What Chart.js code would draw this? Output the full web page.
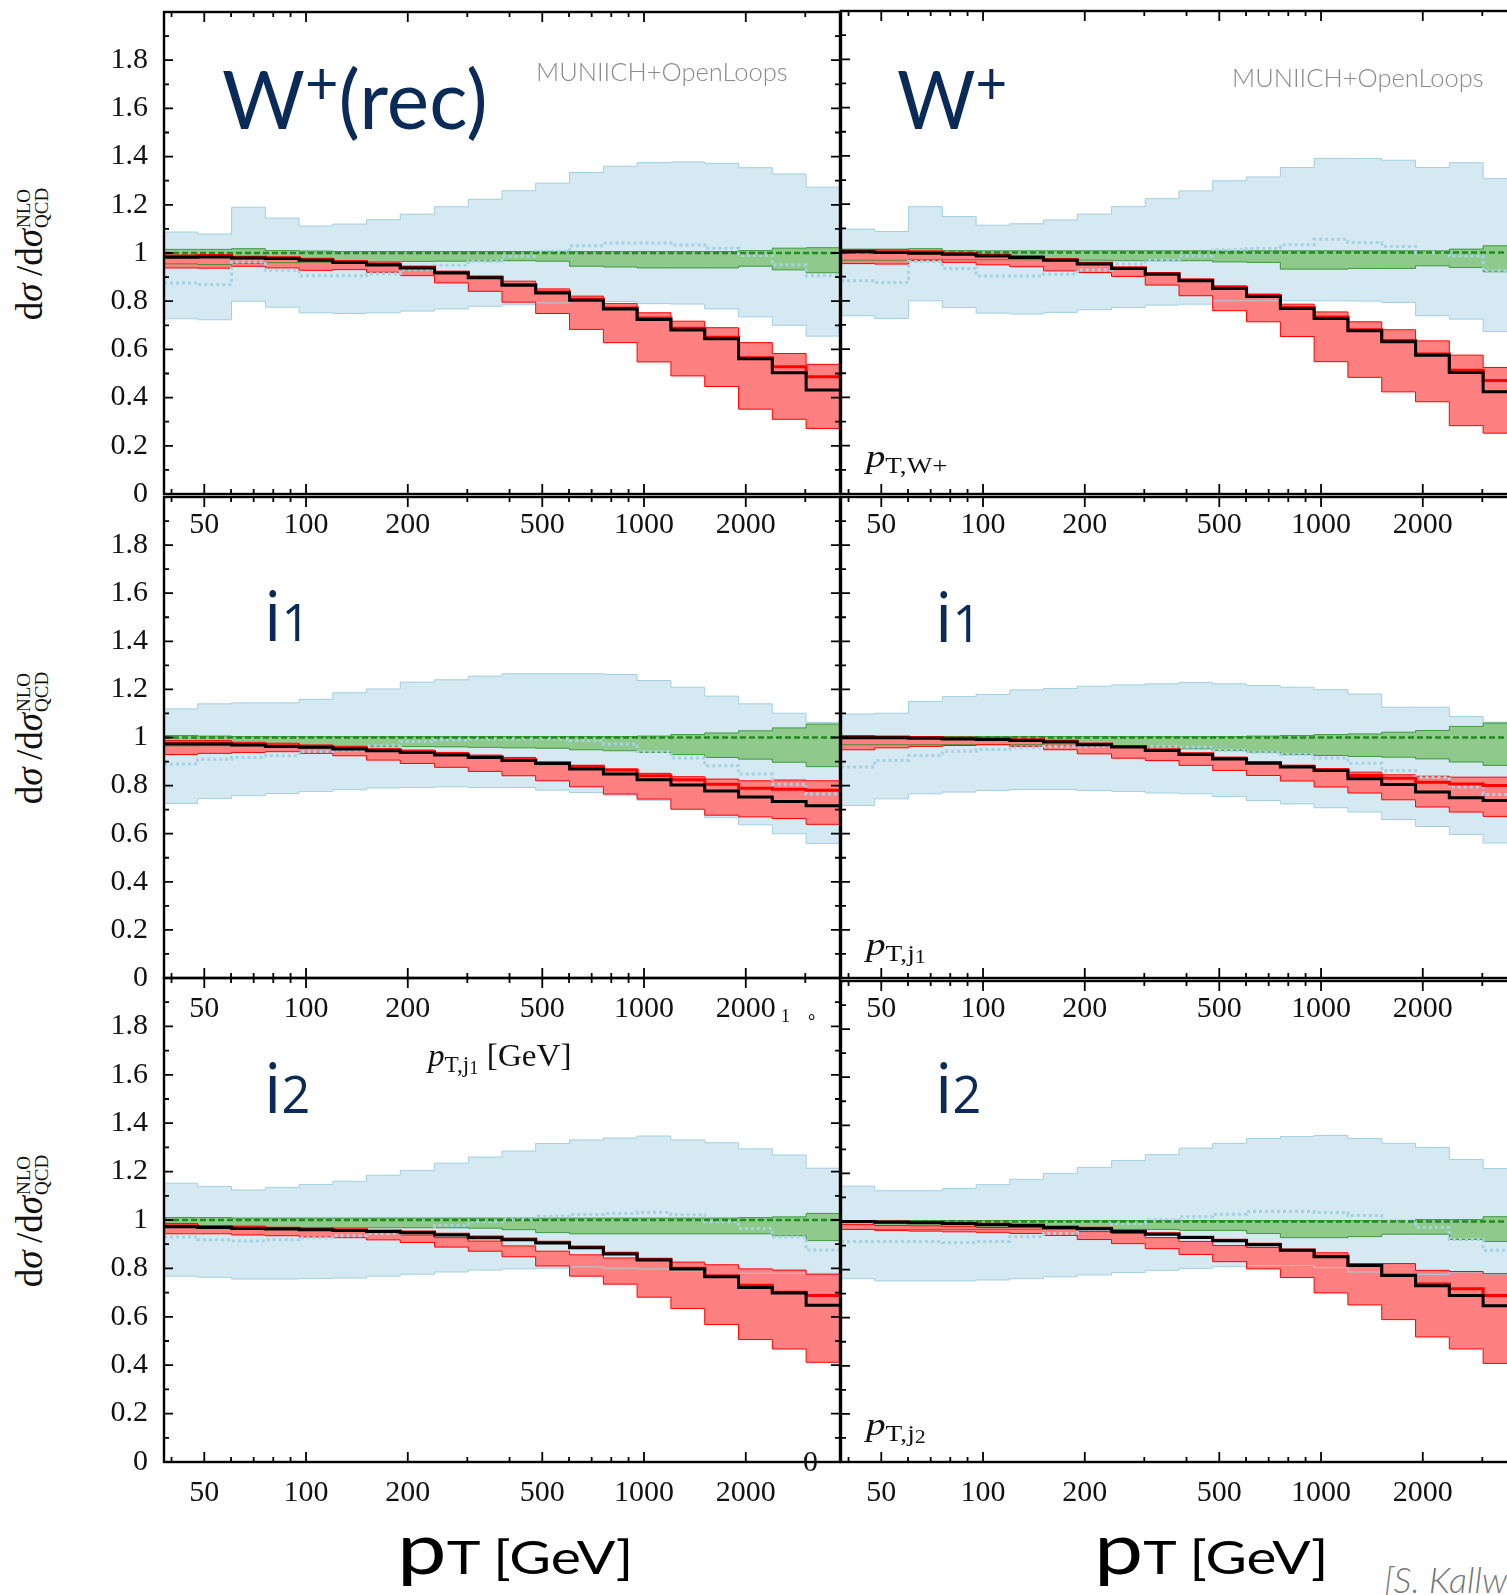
<!DOCTYPE html>
<html>
<head>
<meta charset="utf-8">
<script src="https://cdn.jsdelivr.net/npm/chart.js@4.4.1/dist/chart.umd.min.js"></script>
<style>
  html, body { margin: 0; padding: 0; background: #fff; }
  body { width: 1507px; height: 1595px; overflow: hidden; position: relative; }
  canvas { position: absolute; }
  .lbl { position: absolute; white-space: nowrap; line-height: 1; transform-origin: 0 0; }
  .probe { display: inline-block; width: 0; height: 0; }
  .big { font-family: Lato, sans-serif; font-size: 82px; color: #0a2a57; }
  .big .sp { font-size: 0.72em; position: relative; top: -0.42em; }
  .tag { font-family: Lato, sans-serif; font-weight: 300; font-size: 25px; color: #8a8a8a; }
  .jet { font-family: "Open Sans", sans-serif; font-size: 69px; color: #0a2a57; }
  .jet .dg { font-size: 0.73em; }
  .obs { font-family: "Liberation Serif", serif; font-size: 32px; color: #111; }
  .obs .lo { font-size: 0.7em; position: relative; top: 0.25em; }
  .obs .lo2 { font-size: 0.8em; position: relative; top: 0.15em; }
  .axis { font-family: Lato, sans-serif; font-size: 46px; color: #000; }
  .axis .P { font-size: 1.55em; }
  .axis .T { font-size: 1em; }
  .cred { font-family: Lato, sans-serif; font-style: italic; font-weight: 300; font-size: 36px; color: #777; }
  .frag { font-family: "Liberation Serif", serif; font-size: 18px; color: #111; }
  .tick { font-family: "Liberation Serif", serif; font-size: 30px; color: #111; }
  .ytitle { position: absolute; font-family: "Liberation Serif", serif; font-size: 37px; color: #111;
            white-space: nowrap; line-height: 1; transform: translate(-50%, -50%) rotate(-90deg); }
  .ytitle .ss { display: inline-block; font-size: 19px; line-height: 0.95; vertical-align: -0.3em; margin-left: 1px; }
  .ytitle .ss span { display: block; }
</style>
</head>
<body>
<script>
// bin edges of the pT histograms (GeV)
const binEdges = [38, 47.8, 60.2, 75.8, 95.4, 120, 151, 190, 240, 302, 380, 478, 602, 758, 954, 1201, 1512, 1904, 2396, 3017, 3800];
const xTicks = [40, 50, 60, 70, 80, 90, 100, 200, 300, 400, 500, 600, 700, 800, 900, 1000, 2000, 3000];
const xLabeled = [50, 100, 200, 500, 1000, 2000];
const nloRef = [1, 1, 1, 1, 1, 1, 1, 1, 1, 1, 1, 1, 1, 1, 1, 1, 1, 1, 1, 1];

// W+(rec)
const wRecBlueHi = [1.087, 1.079, 1.19, 1.145, 1.112, 1.12, 1.138, 1.161, 1.192, 1.223, 1.258, 1.29, 1.334, 1.36, 1.375, 1.378, 1.372, 1.354, 1.328, 1.273];
const wRecBlueLo = [0.727, 0.723, 0.8, 0.775, 0.752, 0.749, 0.752, 0.759, 0.768, 0.779, 0.785, 0.793, 0.799, 0.799, 0.79, 0.788, 0.768, 0.735, 0.70, 0.655];
const wRecBlueMid = [0.876, 0.869, 0.963, 0.928, 0.906, 0.906, 0.914, 0.931, 0.949, 0.966, 0.986, 1.007, 1.03, 1.041, 1.041, 1.033, 1.02, 0.99, 0.95, 0.906];
const wRecGreenHi = [1.015, 1.015, 1.018, 1.01, 1.008, 1.006, 1.006, 1.006, 1.006, 1.006, 1.006, 1.006, 1.006, 1.006, 1.006, 1.006, 1.006, 1.01, 1.02, 1.022];
const wRecGreenLo = [0.955, 0.952, 0.957, 0.96, 0.962, 0.963, 0.964, 0.965, 0.966, 0.967, 0.968, 0.966, 0.945, 0.942, 0.938, 0.938, 0.938, 0.945, 0.93, 0.918];
const wRecRedHi = [0.99, 0.992, 0.983, 0.983, 0.978, 0.968, 0.959, 0.945, 0.924, 0.903, 0.883, 0.851, 0.821, 0.79, 0.752, 0.717, 0.69, 0.628, 0.583, 0.538];
const wRecRedLo = [0.938, 0.937, 0.945, 0.938, 0.928, 0.931, 0.92, 0.906, 0.876, 0.841, 0.796, 0.749, 0.683, 0.628, 0.548, 0.49, 0.446, 0.352, 0.31, 0.272];
const wRecRedMid = [0.988, 0.99, 0.982, 0.98, 0.973, 0.964, 0.953, 0.941, 0.92, 0.9, 0.869, 0.838, 0.808, 0.772, 0.73, 0.688, 0.65, 0.565, 0.528, 0.486];
const wRecBlack = [0.982, 0.983, 0.979, 0.977, 0.97, 0.961, 0.95, 0.938, 0.917, 0.897, 0.866, 0.834, 0.804, 0.768, 0.724, 0.68, 0.644, 0.561, 0.503, 0.432];

// W+
const wPlusBlueHi = [1.097, 1.087, 1.19, 1.149, 1.113, 1.119, 1.135, 1.159, 1.19, 1.223, 1.255, 1.297, 1.313, 1.352, 1.39, 1.389, 1.382, 1.352, 1.372, 1.306];
const wPlusBlueLo = [0.738, 0.727, 0.8, 0.772, 0.749, 0.745, 0.752, 0.763, 0.772, 0.782, 0.786, 0.8, 0.8, 0.8, 0.8, 0.799, 0.793, 0.738, 0.724, 0.673];
const wPlusBlueMid = [0.883, 0.876, 0.963, 0.934, 0.903, 0.903, 0.91, 0.928, 0.952, 0.968, 0.986, 1.011, 1.017, 1.032, 1.055, 1.041, 1.025, 1.0, 0.986, 0.924];
const wPlusGreenHi = [1.014, 1.014, 1.016, 1.008, 1.007, 1.007, 1.007, 1.007, 1.007, 1.007, 1.007, 1.007, 1.007, 1.007, 1.007, 1.007, 1.007, 1.007, 1.014, 1.028];
const wPlusGreenLo = [0.968, 0.968, 0.97, 0.97, 0.97, 0.97, 0.97, 0.968, 0.966, 0.966, 0.966, 0.961, 0.959, 0.931, 0.931, 0.934, 0.934, 0.945, 0.938, 0.92];
const wPlusRedHi = [1.011, 1.011, 1.007, 1.0, 0.993, 0.986, 0.975, 0.959, 0.938, 0.914, 0.89, 0.862, 0.828, 0.786, 0.754, 0.713, 0.68, 0.634, 0.575, 0.524];
const wPlusRedLo = [0.954, 0.952, 0.966, 0.959, 0.949, 0.941, 0.924, 0.917, 0.901, 0.865, 0.821, 0.759, 0.713, 0.652, 0.548, 0.483, 0.423, 0.382, 0.283, 0.252];
const wPlusRedMid = [1.005, 1.002, 0.999, 0.995, 0.988, 0.981, 0.97, 0.955, 0.937, 0.913, 0.886, 0.855, 0.822, 0.772, 0.733, 0.68, 0.636, 0.58, 0.512, 0.47];
const wPlusBlack = [1.003, 1.0, 0.997, 0.993, 0.986, 0.979, 0.968, 0.952, 0.934, 0.91, 0.883, 0.851, 0.818, 0.768, 0.727, 0.676, 0.63, 0.575, 0.503, 0.423];

// j1, W+(rec) column
const j1LBlueHi = [1.119, 1.14, 1.144, 1.144, 1.159, 1.186, 1.202, 1.23, 1.24, 1.255, 1.265, 1.265, 1.265, 1.262, 1.237, 1.209, 1.172, 1.14, 1.101, 1.063];
const j1LBlueLo = [0.726, 0.746, 0.758, 0.767, 0.776, 0.783, 0.79, 0.792, 0.795, 0.792, 0.792, 0.781, 0.771, 0.76, 0.739, 0.702, 0.667, 0.637, 0.6, 0.559];
const j1LBlueMid = [0.89, 0.91, 0.917, 0.924, 0.942, 0.948, 0.966, 0.983, 0.99, 0.994, 0.994, 0.994, 0.987, 0.973, 0.942, 0.915, 0.883, 0.848, 0.806, 0.765];
const j1LGreenHi = [1.008, 1.006, 1.004, 1.004, 1.004, 1.004, 1.004, 1.004, 1.004, 1.004, 1.004, 1.004, 1.004, 1.004, 1.006, 1.012, 1.019, 1.028, 1.04, 1.056];
const j1LGreenLo = [0.965, 0.966, 0.966, 0.966, 0.965, 0.964, 0.963, 0.962, 0.961, 0.959, 0.957, 0.955, 0.949, 0.945, 0.938, 0.929, 0.917, 0.91, 0.897, 0.879];
const j1LRedHi = [0.987, 0.987, 0.98, 0.976, 0.969, 0.962, 0.955, 0.948, 0.938, 0.927, 0.917, 0.897, 0.883, 0.869, 0.851, 0.837, 0.827, 0.82, 0.823, 0.82];
const j1LRedLo = [0.929, 0.934, 0.938, 0.941, 0.934, 0.924, 0.906, 0.892, 0.876, 0.859, 0.841, 0.82, 0.795, 0.765, 0.744, 0.702, 0.677, 0.67, 0.663, 0.639];
const j1LRedMid = [0.976, 0.976, 0.972, 0.966, 0.962, 0.955, 0.948, 0.941, 0.93, 0.92, 0.907, 0.895, 0.88, 0.865, 0.841, 0.824, 0.806, 0.789, 0.785, 0.781];
const j1LBlack = [0.973, 0.973, 0.969, 0.963, 0.959, 0.952, 0.945, 0.938, 0.927, 0.917, 0.904, 0.892, 0.869, 0.848, 0.824, 0.803, 0.778, 0.753, 0.734, 0.716];

// j1, W+ column
const j1RBlueHi = [1.098, 1.101, 1.15, 1.17, 1.179, 1.198, 1.204, 1.213, 1.219, 1.223, 1.229, 1.223, 1.216, 1.209, 1.199, 1.181, 1.126, 1.126, 1.087, 1.064];
const j1RBlueLo = [0.717, 0.745, 0.766, 0.773, 0.78, 0.784, 0.784, 0.78, 0.776, 0.769, 0.766, 0.755, 0.738, 0.724, 0.708, 0.69, 0.659, 0.63, 0.597, 0.561];
const j1RBlueMid = [0.877, 0.904, 0.925, 0.943, 0.95, 0.957, 0.963, 0.963, 0.963, 0.963, 0.96, 0.946, 0.939, 0.929, 0.914, 0.893, 0.863, 0.835, 0.794, 0.763];
const j1RGreenHi = [1.006, 1.004, 1.004, 1.004, 1.004, 1.004, 1.004, 1.004, 1.004, 1.004, 1.004, 1.004, 1.006, 1.008, 1.012, 1.015, 1.022, 1.029, 1.046, 1.06];
const j1RGreenLo = [0.97, 0.97, 0.97, 0.97, 0.97, 0.97, 0.968, 0.966, 0.963, 0.96, 0.953, 0.946, 0.939, 0.929, 0.925, 0.921, 0.918, 0.911, 0.898, 0.884];
const j1RRedHi = [1.008, 1.004, 1.0, 0.998, 0.994, 0.988, 0.981, 0.974, 0.963, 0.949, 0.935, 0.918, 0.898, 0.884, 0.87, 0.856, 0.845, 0.839, 0.835, 0.835];
const j1RRedLo = [0.949, 0.957, 0.963, 0.967, 0.97, 0.963, 0.949, 0.932, 0.914, 0.904, 0.884, 0.863, 0.842, 0.819, 0.794, 0.769, 0.741, 0.711, 0.69, 0.672];
const j1RRedMid = [1.002, 1.002, 1.0, 0.997, 0.995, 0.991, 0.984, 0.973, 0.963, 0.949, 0.932, 0.914, 0.896, 0.88, 0.866, 0.842, 0.831, 0.814, 0.807, 0.8];
const j1RBlack = [0.999, 0.999, 0.997, 0.994, 0.992, 0.988, 0.981, 0.97, 0.96, 0.946, 0.929, 0.911, 0.893, 0.877, 0.863, 0.828, 0.805, 0.773, 0.749, 0.738];

// j2, W+(rec) column
const j2LBlueHi = [1.152, 1.139, 1.124, 1.135, 1.147, 1.16, 1.185, 1.205, 1.235, 1.26, 1.285, 1.316, 1.331, 1.339, 1.347, 1.331, 1.319, 1.294, 1.269, 1.214];
const j2LBlueLo = [0.768, 0.763, 0.756, 0.756, 0.758, 0.76, 0.768, 0.776, 0.785, 0.793, 0.798, 0.801, 0.806, 0.801, 0.798, 0.79, 0.775, 0.78, 0.78, 0.78];
const j2LBlueMid = [0.93, 0.918, 0.913, 0.918, 0.927, 0.935, 0.943, 0.952, 0.977, 0.993, 1.002, 1.015, 1.023, 1.027, 1.032, 1.022, 0.993, 0.965, 0.93, 0.876];
const j2LGreenHi = [1.01, 1.01, 1.008, 1.008, 1.008, 1.008, 1.008, 1.008, 1.008, 1.008, 1.008, 1.008, 1.008, 1.008, 1.008, 1.008, 1.008, 1.01, 1.013, 1.027];
const j2LGreenLo = [0.985, 0.975, 0.97, 0.968, 0.968, 0.968, 0.968, 0.968, 0.968, 0.966, 0.96, 0.948, 0.943, 0.943, 0.943, 0.943, 0.943, 0.943, 0.935, 0.915];
const j2LRedHi = [0.985, 0.977, 0.975, 0.968, 0.963, 0.957, 0.948, 0.938, 0.927, 0.913, 0.893, 0.871, 0.856, 0.843, 0.84, 0.826, 0.815, 0.798, 0.793, 0.776];
const j2LRedLo = [0.943, 0.943, 0.938, 0.935, 0.93, 0.927, 0.918, 0.907, 0.888, 0.871, 0.848, 0.81, 0.768, 0.735, 0.681, 0.634, 0.568, 0.506, 0.467, 0.412];
const j2LRedMid = [0.975, 0.972, 0.968, 0.966, 0.963, 0.96, 0.955, 0.95, 0.941, 0.93, 0.921, 0.908, 0.888, 0.863, 0.838, 0.801, 0.77, 0.73, 0.701, 0.688];
const j2LBlack = [0.972, 0.969, 0.965, 0.963, 0.96, 0.957, 0.952, 0.947, 0.938, 0.927, 0.918, 0.905, 0.885, 0.86, 0.835, 0.798, 0.765, 0.721, 0.698, 0.648];

// j2, W+ column
const j2RBlueHi = [1.147, 1.128, 1.128, 1.137, 1.153, 1.175, 1.2, 1.225, 1.253, 1.278, 1.305, 1.325, 1.345, 1.353, 1.358, 1.345, 1.325, 1.308, 1.258, 1.22];
const j2RBlueLo = [0.762, 0.753, 0.753, 0.753, 0.757, 0.762, 0.77, 0.778, 0.788, 0.797, 0.805, 0.812, 0.817, 0.817, 0.808, 0.79, 0.775, 0.78, 0.79, 0.78];
const j2RBlueMid = [0.917, 0.917, 0.917, 0.913, 0.917, 0.937, 0.95, 0.967, 0.992, 1.007, 1.02, 1.03, 1.042, 1.042, 1.037, 1.025, 1.003, 0.975, 0.925, 0.88];
const j2RGreenHi = [1.004, 1.004, 1.004, 1.004, 1.004, 1.004, 1.004, 1.004, 1.004, 1.004, 1.004, 1.004, 1.004, 1.004, 1.004, 1.004, 1.004, 1.008, 1.008, 1.02];
const j2RGreenLo = [0.967, 0.967, 0.967, 0.967, 0.967, 0.967, 0.967, 0.967, 0.967, 0.967, 0.963, 0.963, 0.95, 0.933, 0.933, 0.937, 0.947, 0.947, 0.925, 0.917];
const j2RRedHi = [0.987, 0.983, 0.982, 0.98, 0.975, 0.975, 0.97, 0.958, 0.95, 0.933, 0.917, 0.9, 0.892, 0.88, 0.87, 0.825, 0.825, 0.797, 0.792, 0.783];
const j2RRedLo = [0.967, 0.963, 0.96, 0.957, 0.955, 0.95, 0.942, 0.925, 0.908, 0.887, 0.863, 0.833, 0.803, 0.767, 0.703, 0.653, 0.592, 0.52, 0.47, 0.41];
const j2RRedMid = [1.0, 0.998, 0.996, 0.993, 0.989, 0.985, 0.977, 0.972, 0.96, 0.949, 0.935, 0.922, 0.905, 0.882, 0.855, 0.82, 0.778, 0.74, 0.72, 0.692];
const j2RBlack = [1.0, 0.997, 0.995, 0.992, 0.987, 0.983, 0.975, 0.97, 0.958, 0.947, 0.933, 0.92, 0.903, 0.88, 0.853, 0.817, 0.775, 0.733, 0.692, 0.65];

const BLUE_FILL = '#d4e9f1', BLUE_EDGE = '#a3d0e1', BLUE_DOT = '#a6d2e4';
const GREEN_FILL = '#8fc98b', GREEN_EDGE = 'rgba(34,139,34,0.8)', GREEN_DASH = '#228b22';
const RED_FILL = '#ff8080', RED = '#ff0000';

// margins of each canvas around its plot box
const ML = 90, MR = 6, MT = 6, MB = 70;
const TICK_FONT = { family: "'Liberation Serif', serif", size: 30 };

const panels = [
  { l: 164, t: 12, b: 494, showY: true, s: [wRecBlueHi, wRecBlueLo, wRecBlueMid, wRecGreenHi, wRecGreenLo, wRecRedHi, wRecRedLo, wRecRedMid, wRecBlack] },
  { l: 841, t: 11, b: 494, showY: false, s: [wPlusBlueHi, wPlusBlueLo, wPlusBlueMid, wPlusGreenHi, wPlusGreenLo, wPlusRedHi, wPlusRedLo, wPlusRedMid, wPlusBlack] },
  { l: 164, t: 497, b: 978, showY: true, s: [j1LBlueHi, j1LBlueLo, j1LBlueMid, j1LGreenHi, j1LGreenLo, j1LRedHi, j1LRedLo, j1LRedMid, j1LBlack] },
  { l: 841, t: 497, b: 978, showY: false, s: [j1RBlueHi, j1RBlueLo, j1RBlueMid, j1RGreenHi, j1RGreenLo, j1RRedHi, j1RRedLo, j1RRedMid, j1RBlack] },
  { l: 164, t: 978, b: 1462, showY: true, s: [j2LBlueHi, j2LBlueLo, j2LBlueMid, j2LGreenHi, j2LGreenLo, j2LRedHi, j2LRedLo, j2LRedMid, j2LBlack] },
  { l: 841, t: 981, b: 1462, showY: false, s: [j2RBlueHi, j2RBlueLo, j2RBlueMid, j2RGreenHi, j2RGreenLo, j2RRedHi, j2RRedLo, j2RRedMid, j2RBlack] },
];
const PLOT_W = 676;

function steps(vals) {
  const pts = vals.map((v, i) => ({ x: binEdges[i], y: v }));
  pts.push({ x: binEdges[binEdges.length - 1], y: vals[vals.length - 1] });
  return pts;
}

function line(vals, extra) {
  return Object.assign({ data: steps(vals), stepped: true, pointRadius: 0, borderWidth: 1, fill: false }, extra);
}

// no label overhang padding: plot box is set by the margins only
function noPad(s) {
  s.paddingTop = 0; s.paddingBottom = 0; s.paddingLeft = 0; s.paddingRight = 0;
}

// frame plus inward ticks on all four sides
const frameTicks = {
  id: 'frameTicks',
  afterDraw(chart) {
    const { ctx, chartArea: a, scales: { x, y } } = chart;
    ctx.save();
    ctx.strokeStyle = '#000';
    ctx.lineWidth = 1.8;
    ctx.beginPath();
    xTicks.forEach(v => {
      const px = x.getPixelForValue(v);
      const len = xLabeled.includes(v) ? 10 : 5;
      ctx.moveTo(px, a.bottom); ctx.lineTo(px, a.bottom - len);
      ctx.moveTo(px, a.top); ctx.lineTo(px, a.top + len);
    });
    for (let k = 1; k < 20; k++) {
      const py = y.getPixelForValue(k / 10);
      const len = k % 2 === 0 ? 9 : 5;
      ctx.moveTo(a.left, py); ctx.lineTo(a.left + len, py);
      ctx.moveTo(a.right, py); ctx.lineTo(a.right - len, py);
    }
    ctx.stroke();
    ctx.lineWidth = 2.4;
    ctx.strokeRect(a.left, a.top, a.right - a.left, a.bottom - a.top);
    ctx.restore();
  }
};

panels.forEach(p => {
  const cv = document.createElement('canvas');
  const w = PLOT_W + ML + MR, h = (p.b - p.t) + MT + MB;
  cv.width = w; cv.height = h;
  cv.style.left = (p.l - ML) + 'px';
  cv.style.top = (p.t - MT) + 'px';
  cv.style.width = w + 'px'; cv.style.height = h + 'px';
  document.body.appendChild(cv);

  const [bHi, bLo, bMid, gHi, gLo, rHi, rLo, rMid, blk] = p.s;
  new Chart(cv, {
    type: 'line',
    data: {
      datasets: [
        line(bHi, { borderColor: BLUE_EDGE, backgroundColor: BLUE_FILL, fill: '+1', order: 9 }),
        line(bLo, { borderColor: BLUE_EDGE, order: 8 }),
        line(gHi, { borderColor: GREEN_EDGE, backgroundColor: GREEN_FILL, fill: '+1', order: 7 }),
        line(gLo, { borderColor: GREEN_EDGE, order: 6 }),
        line(rHi, { borderColor: RED, backgroundColor: RED_FILL, fill: '+1', order: 5 }),
        line(rLo, { borderColor: RED, order: 4 }),
        line(bMid, { borderColor: BLUE_DOT, borderWidth: 3, borderDash: [3, 3], order: 3 }),
        line(nloRef, { borderColor: GREEN_DASH, borderWidth: 2.5, borderDash: [6, 3], order: 2 }),
        line(rMid, { borderColor: RED, borderWidth: 3, order: 1 }),
        line(blk, { borderColor: '#000', borderWidth: 3, order: 0 }),
      ]
    },
    options: {
      responsive: false,
      animation: false,
      devicePixelRatio: 1,
      events: [],
      layout: { autoPadding: false, padding: { left: 0, right: MR, top: MT, bottom: 0 } },
      plugins: {
        legend: { display: false },
        tooltip: { enabled: false },
        filler: { drawTime: 'beforeDatasetsDraw' }
      },
      scales: {
        x: {
          type: 'logarithmic',
          bounds: 'data',
          min: binEdges[0],
          max: binEdges[binEdges.length - 1],
          grid: { display: false, drawTicks: false },
          border: { display: false },
          afterBuildTicks: s => { s.ticks = xTicks.map(v => ({ value: v })); },
          afterFit: s => { s.height = MB; noPad(s); },
          ticks: {
            autoSkip: false, maxRotation: 0, minRotation: 0, padding: 13,
            font: TICK_FONT, color: '#111',
            callback: v => xLabeled.includes(v) ? String(v) : ''
          }
        },
        y: {
          min: 0, max: 2,
          grid: { display: false, drawTicks: false },
          border: { display: false },
          afterFit: s => { s.width = ML; noPad(s); },
          ticks: {
            display: p.showY, stepSize: 0.2, padding: 16,
            font: TICK_FONT, color: '#111',
            callback: v => v > 1.95 ? '' : String(Math.round(v * 10) / 10)
          }
        }
      }
    },
    plugins: [frameTicks]
  });
});

// text placed by its baseline
function label(html, cls, x, base, opt) {
  opt = opt || {};
  const el = document.createElement('div');
  el.className = 'lbl ' + cls;
  el.innerHTML = html;
  const probe = document.createElement('span');
  probe.className = 'probe';
  el.appendChild(probe);
  document.body.appendChild(el);
  const b = probe.offsetTop;
  el.style.left = x + 'px';
  el.style.top = (base - b) + 'px';
  if (opt.w) el.style.transform = 'scaleX(' + (opt.w / el.offsetWidth) + ')';
  if (opt.clip) { el.style.height = b + 'px'; el.style.overflow = 'hidden'; }
}

label('W<span class="sp">+</span>(rec)', 'big', 222, 129, { w: 266 });
label('W<span class="sp">+</span>', 'big', 897, 129, { w: 110 });
label('MUNIICH+OpenLoops', 'tag', 536, 81, { w: 252 });
label('MUNIICH+OpenLoops', 'tag', 1232, 87, { w: 252 });
label('j<span class="dg">1</span>', 'jet', 264, 641, { clip: true });
label('j<span class="dg">1</span>', 'jet', 935, 642, { clip: true });
label('j<span class="dg">2</span>', 'jet', 264, 1113, { clip: true });
label('j<span class="dg">2</span>', 'jet', 935, 1113, { clip: true });
label('<i>p</i><span class="lo">T,W+</span>', 'obs', 866, 467, { w: 81 });
label('<i>p</i><span class="lo">T,j<span class="lo2">1</span></span>', 'obs', 866, 955, { w: 60 });
label('<i>p</i><span class="lo">T,j<span class="lo2">2</span></span>', 'obs', 866, 1435, { w: 60 });
label('<i>p</i><span class="lo">T,j<span class="lo2">1</span></span> [GeV]', 'obs', 428, 1066, { w: 144 });
label('<span class="P">p</span><span class="T">T</span> [GeV]', 'axis', 397, 1574, { w: 236 });
label('<span class="P">p</span><span class="T">T</span> [GeV]', 'axis', 1094, 1574, { w: 234 });
label('[S. Kallweit]', 'cred', 1384, 1593);
label('1', 'frag', 781, 1022);
label('\u2218', 'frag', 806, 1022);
label('0', 'tick', 803, 1471);

// rotated y-axis titles
[254, 738, 1221].forEach(cy => {
  const el = document.createElement('div');
  el.className = 'ytitle';
  el.innerHTML = 'd<i>σ</i>&thinsp;/d<i>σ</i><span class="ss"><span>NLO</span><span>QCD</span></span>';
  el.style.left = '31px';
  el.style.top = cy + 'px';
  document.body.appendChild(el);
});
</script>
</body>
</html>
